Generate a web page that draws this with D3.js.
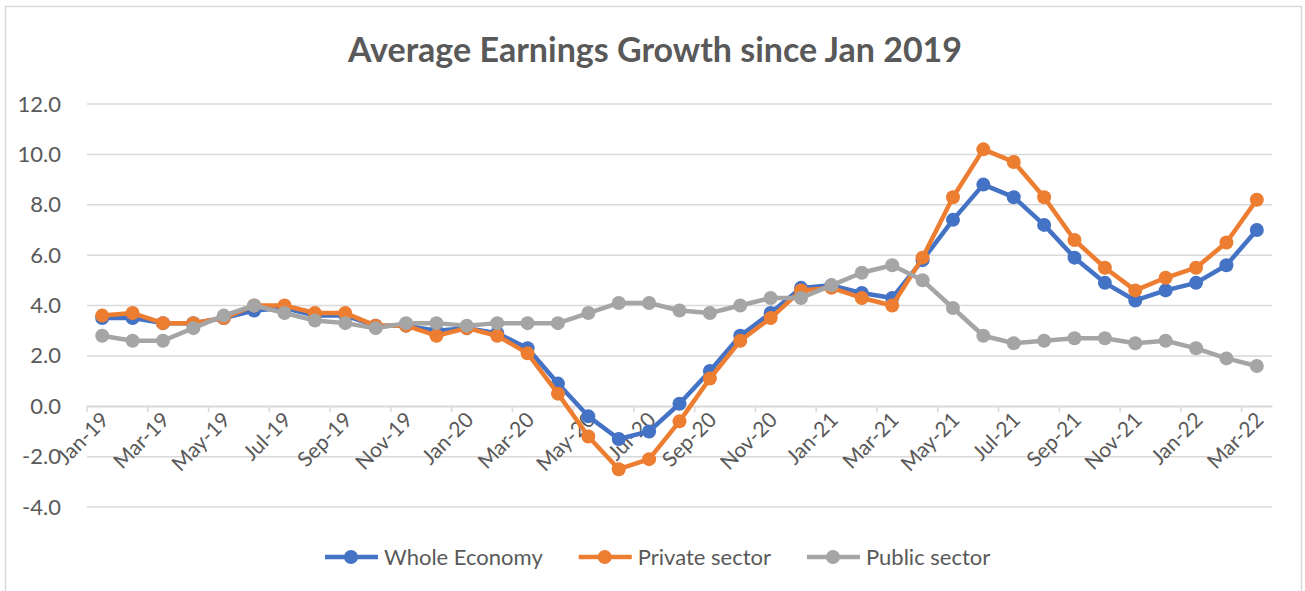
<!DOCTYPE html>
<html>
<head>
<meta charset="utf-8">
<script src="https://cdn.jsdelivr.net/npm/d3@7"></script>
<style>
  body { margin: 0; background: #fff; }
  svg text { font-family: Lato, "Open Sans", sans-serif; fill: #595959; }
</style>
</head>
<body>
<svg id="chart" width="1305" height="591"></svg>
<script>
var months = ['Jan-19','Feb-19','Mar-19','Apr-19','May-19','Jun-19','Jul-19','Aug-19','Sep-19','Oct-19','Nov-19','Dec-19',
  'Jan-20','Feb-20','Mar-20','Apr-20','May-20','Jun-20','Jul-20','Aug-20','Sep-20','Oct-20','Nov-20','Dec-20',
  'Jan-21','Feb-21','Mar-21','Apr-21','May-21','Jun-21','Jul-21','Aug-21','Sep-21','Oct-21','Nov-21','Dec-21',
  'Jan-22','Feb-22','Mar-22']

var wholeEconomy = [3.5,3.5,3.3,3.3,3.5,3.8,3.9,3.6,3.6,3.2,3.2,3.0,
  3.1,2.9,2.3,0.9,-0.4,-1.3,-1.0,0.1,1.4,2.8,3.7,4.7,
  4.8,4.5,4.3,5.8,7.4,8.8,8.3,7.2,5.9,4.9,4.2,4.6,
  4.9,5.6,7.0]
var privateSector = [3.6,3.7,3.3,3.3,3.5,4.0,4.0,3.7,3.7,3.2,3.2,2.8,
  3.1,2.8,2.1,0.5,-1.2,-2.5,-2.1,-0.6,1.1,2.6,3.5,4.6,
  4.7,4.3,4.0,5.9,8.3,10.2,9.7,8.3,6.6,5.5,4.6,5.1,
  5.5,6.5,8.2]
var publicSector = [2.8,2.6,2.6,3.1,3.6,4.0,3.7,3.4,3.3,3.1,3.3,3.3,
  3.2,3.3,3.3,3.3,3.7,4.1,4.1,3.8,3.7,4.0,4.3,4.3,
  4.8,5.3,5.6,5.0,3.9,2.8,2.5,2.6,2.7,2.7,2.5,2.6,
  2.3,1.9,1.6]
var yTicks = [-4,-2,0,2,4,6,8,10,12]

var series = [
  { name: 'Whole Economy', values: wholeEconomy, color: '#4472C4' },
  { name: 'Private sector', values: privateSector, color: '#ED7D31' },
  { name: 'Public sector', values: publicSector, color: '#A5A5A5' }
]

var svg = d3.select('#chart')

// chart frame
svg.append('rect')
  .attr('x', 5.5).attr('y', 6.5)
  .attr('width', 1296).attr('height', 600)
  .attr('fill', 'none')
  .attr('stroke', '#d9d9d9')
  .attr('stroke-width', 1.5)

svg.append('text')
  .attr('x', 655).attr('y', 62)
  .attr('text-anchor', 'middle')
  .attr('font-size', 34)
  .attr('font-weight', 'bold')
  .text('Average Earnings Growth since Jan 2019')

var x = d3.scaleBand().domain(months).range([87, 1272])
var y = d3.scaleLinear().domain([-4, 12]).range([507, 104])
var bw = x.bandwidth()

// gridlines
svg.append('g')
  .selectAll('line')
  .data(yTicks)
  .enter()
  .append('line')
  .attr('x1', 87).attr('x2', 1272)
  .attr('y1', d => y(d)).attr('y2', d => y(d))
  .attr('stroke', '#d9d9d9')
  .attr('stroke-width', 1.5)

// y axis labels (plain hyphen for negatives, like the original)
var fmt = d3.format('.1f')
var yAxis = svg.append('g')
  .attr('transform', 'translate(64,0)')
  .call(d3.axisLeft(y).tickValues(yTicks).tickSize(0)
    .tickFormat(d => fmt(d).replace('\u2212', '-')))
yAxis.select('.domain').remove()
yAxis.selectAll('text')
  .attr('font-size', 22)
  .attr('fill', '#595959')
  .attr('font-family', 'Lato, sans-serif')

// x axis at zero, ticks between categories every 2 months
var labelled = months.filter((m, i) => i % 2 === 0)
var xAxis = svg.append('g')
  .attr('transform', 'translate(0,' + y(0) + ')')
  .call(d3.axisBottom(x).tickValues(labelled).tickSizeInner(6).tickSizeOuter(0))
xAxis.select('.domain')
  .attr('stroke', '#d9d9d9')
  .attr('stroke-width', 1.5)
xAxis.selectAll('.tick line')
  .attr('x1', -bw / 2).attr('x2', -bw / 2)
  .attr('stroke', '#d9d9d9')
  .attr('stroke-width', 1.5)
xAxis.selectAll('.tick text')
  .attr('font-size', 21)
  .attr('fill', '#595959')
  .attr('font-family', 'Lato, sans-serif')
  .attr('text-anchor', 'end')
  .attr('dy', 0)
  .attr('y', 0)
  .attr('transform', 'translate(8,15) rotate(-45)')

// series
var line = d3.line()
  .x((d, i) => x(months[i]) + bw / 2)
  .y(d => y(d))

series.forEach(s => {
  var g = svg.append('g')
  g.append('path')
    .attr('d', line(s.values))
    .attr('fill', 'none')
    .attr('stroke', s.color)
    .attr('stroke-width', 4.5)
    .attr('stroke-linejoin', 'round')
  g.selectAll('circle')
    .data(s.values)
    .enter()
    .append('circle')
    .attr('cx', (d, i) => x(months[i]) + bw / 2)
    .attr('cy', d => y(d))
    .attr('r', 7)
    .attr('fill', s.color)
})

// legend
var legend = svg.append('g').attr('transform', 'translate(0,557)')
var lx = 325
series.forEach(s => {
  var item = legend.append('g').attr('transform', 'translate(' + lx + ',0)')
  item.append('line')
    .attr('x1', 0).attr('x2', 53)
    .attr('stroke', s.color)
    .attr('stroke-width', 4.5)
  item.append('circle')
    .attr('cx', 26).attr('r', 7)
    .attr('fill', s.color)
  var t = item.append('text')
    .attr('x', 59).attr('y', 8)
    .attr('font-size', 22)
    .text(s.name)
  lx += 59 + t.node().getComputedTextLength() + 36
})
</script>
</body>
</html>
